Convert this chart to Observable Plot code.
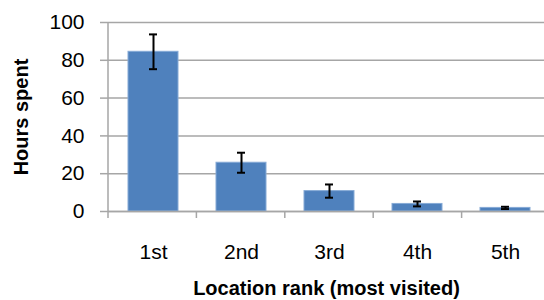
<!DOCTYPE html>
<html>
<head>
<meta charset="utf-8">
<script src="https://cdn.jsdelivr.net/npm/d3@7"></script>
<script src="https://cdn.jsdelivr.net/npm/@observablehq/plot@0.6"></script>
<style>
  html, body { margin: 0; padding: 0; background: #fff; overflow: hidden; }
  #chart svg { display: block; }
</style>
</head>
<body>
<div id="chart"></div>
<script>
const ranks = ["1st", "2nd", "3rd", "4th", "5th"];
const hours = [84.5, 25.8, 10.8, 4.0, 1.9];
const errors = [9.2, 5.3, 3.5, 1.3, 0.6];
const yTicks = [0, 20, 40, 60, 80, 100];
const xTitle = "Location rank (most visited)";
const yTitle = "Hours spent";

const data = ranks.map((r, i) => ({rank: r, hours: hours[i], lo: hours[i] - errors[i], hi: hours[i] + errors[i]}));

const grid = "#a6a6a6";
const font = "'Liberation Sans', Arial, sans-serif";

const plot = Plot.plot({
  width: 544,
  height: 300,
  marginLeft: 108,
  marginRight: 0,
  marginTop: 22,
  marginBottom: 89,
  style: {fontFamily: font, fontSize: "21px", color: "#000", background: "#fff", overflow: "hidden"},
  x: {domain: ranks, range: [108, 550], paddingInner: 0.43, paddingOuter: 0.215},
  y: {domain: [0, 100]},
  marks: [
    Plot.gridY(yTicks, {stroke: grid, strokeOpacity: 1, strokeWidth: 1.5}),
    Plot.axisY(yTicks, {tickSize: 8, tickPadding: 16, stroke: grid, strokeWidth: 1.5, fontSize: 21, label: null}),
    Plot.axisX({tickSize: 0, tickPadding: 33, fontSize: 21, label: null}),
    Plot.barY(data, {x: "rank", y: "hours", fill: "#4F81BD", stroke: "#86aad6", strokeWidth: 1}),
    Plot.ruleY([0], {stroke: grid, strokeWidth: 1.5}),
    Plot.ruleX(data, {x: "rank", y1: "lo", y2: "hi", stroke: "#000", strokeWidth: 2}),
    Plot.tickY(data, {x: "rank", y: "lo", stroke: "#000", strokeWidth: 2, insetLeft: 21, insetRight: 21}),
    Plot.tickY(data, {x: "rank", y: "hi", stroke: "#000", strokeWidth: 2, insetLeft: 21, insetRight: 21}),
    Plot.text([yTitle], {frameAnchor: "left", dx: -87, rotate: -90, textAnchor: "middle", lineAnchor: "middle", fontWeight: "bold", fontSize: 20, text: d => d}),
    Plot.text([xTitle], {frameAnchor: "bottom", dy: 77, lineAnchor: "middle", fontWeight: "bold", fontSize: 20, text: d => d})
  ]
});

document.getElementById("chart").appendChild(plot);

// vertical axis line and category boundary ticks, placed with Plot's own x/y scales
const xs = plot.scale("x");
const ys = plot.scale("y");
const xScale = d3.scaleBand().domain(xs.domain).range(xs.range).paddingInner(0.43).paddingOuter(0.215);
const yScale = d3.scaleLinear().domain(ys.domain).range(ys.range);
const step = xScale.step();
const gap = step - xScale.bandwidth();
const bounds = ranks.map(r => xScale(r) - gap / 2).concat([xScale(ranks[ranks.length - 1]) + xScale.bandwidth() + gap / 2]);
const svg = d3.select(plot);
const g = svg.append("g").attr("stroke", grid).attr("stroke-width", 1.5);
g.append("line")
  .attr("x1", bounds[0]).attr("x2", bounds[0])
  .attr("y1", yScale(100)).attr("y2", yScale(0) + 7);
g.selectAll("line.t").data(bounds.slice(1)).join("line")
  .attr("class", "t")
  .attr("x1", d => d).attr("x2", d => d)
  .attr("y1", yScale(0)).attr("y2", yScale(0) + 7);
</script>
</body>
</html>
